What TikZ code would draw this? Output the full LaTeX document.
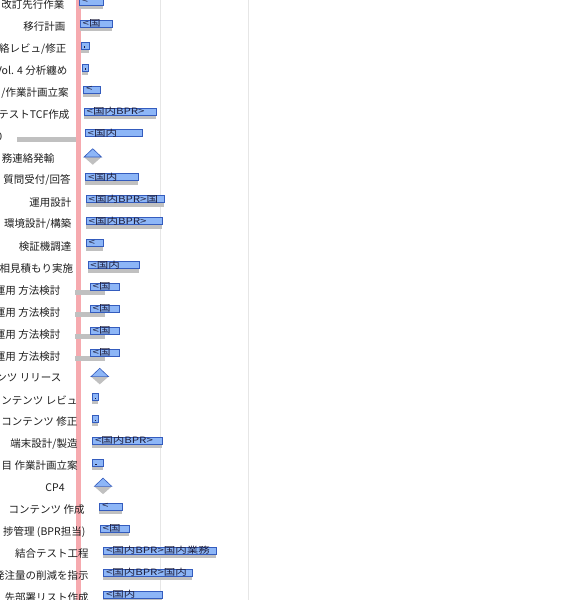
\documentclass[tikz,border=0pt]{standalone}
\usepackage{graphicx}
\usepackage{fontspec}
\newfontfamily\jpfont{Noto Sans CJK JP}
\newfontfamily\jpbarfont{Noto Sans CJK JP Medium}
\definecolor{barfill}{RGB}{141,182,247}
\definecolor{barline}{RGB}{52,92,190}
\definecolor{shadowgray}{RGB}{192,192,192}
\definecolor{pinkline}{RGB}{246,170,175}
\definecolor{gridgray}{RGB}{230,230,230}
\definecolor{labtext}{RGB}{30,30,30}
\definecolor{btext}{RGB}{30,30,60}
\tikzset{
  gbar/.style={draw=barline, fill=barfill, line width=0.6pt},
  gshadow/.style={fill=shadowgray},
  lab/.style={font=\jpfont\fontsize{10.5}{12}\selectfont, text=labtext, inner sep=0pt, anchor=east},
  btxt/.style={font=\jpfont\fontsize{11.5}{12}\selectfont, text=btext, inner sep=0pt, anchor=west},
  gridline/.style={draw=gridgray, line width=0.8pt},
  todayline/.style={fill=pinkline},
}
\newcommand\rowy[1]{\pgfmathsetmacro\cy{1.5+21.96*(#1-1)}}
% task bar with shadow: row, x1, x2, bar text, label
\newcommand\gtask[5]{%
  \rowy{#1}%
  \fill[gshadow] (#2,\cy+0.75) rectangle (#3,\cy+7.5);
  \node[gbar, minimum width={(#3-#2)*1pt}, minimum height=7pt, inner sep=0pt, anchor=west] (bar#1) at (#2,\cy) {};
  \node[btxt] (bt#1) at ([xshift=2.5pt,yshift=0.3pt]bar#1.west) {\scalebox{1}[0.76]{#4}};
  \node[lab] (lab#1) at (#2-14.5,\cy+3.2) {#5};
}
% tiny bar with a dot: row, x1, x2, label
\newcommand\gtiny[4]{%
  \rowy{#1}%
  \fill[gshadow] (#2,\cy+0.75) rectangle (#3,\cy+7.5);
  \node[gbar, minimum width={(#3-#2)*1pt}, minimum height=7pt, inner sep=0pt, anchor=west] (bar#1) at (#2,\cy) {};
  \fill[btext] ([xshift=2.6pt,yshift=-0.9pt]bar#1.west) rectangle +(1.8,1.8);
  \node[lab] (lab#1) at (#2-14.5,\cy+3.2) {#4};
}
% baseline gray bar + blue bar without shadow: row, gx1, gx2, x1, x2, bar text, label
\newcommand\gbase[7]{%
  \rowy{#1}%
  \fill[gshadow] (#2,\cy+3.4) rectangle (#3,\cy+8.4);
  \node[gbar, minimum width={(#5-#4)*1pt}, minimum height=7pt, inner sep=0pt, anchor=west] (bar#1) at (#4,\cy) {};
  \node[btxt] (bt#1) at ([xshift=2.5pt,yshift=0.3pt]bar#1.west) {\scalebox{1}[0.76]{#6}};
  \node[lab] (lab#1) at (#2-14.5,\cy+3.2) {#7};
}
% milestone: row, x1, label
\newcommand\gmile[3]{%
  \rowy{#1}%
  \coordinate (ml#1) at (#2,\cy+1.8);
  \coordinate (mr#1) at (#2+17.5,\cy+1.8);
  \coordinate (mt#1) at (#2+8.75,\cy-6.5);
  \coordinate (mb#1) at (#2+8.75,\cy+9.5);
  \fill[gshadow] (ml#1) -- (mb#1) -- (mr#1) -- cycle;
  \filldraw[gbar] (ml#1) -- (mt#1) -- (mr#1) -- cycle;
  \node[lab] (lab#1) at (#2-29.5,\cy+3.2) {#3};
}
\begin{document}
\begin{tikzpicture}[x=1pt,y=-1pt]
\useasboundingbox (0,0) rectangle (574,600);
\clip (0,0) rectangle (574,600);
\fill[white] (0,0) rectangle (574,600);
% grid lines
\coordinate (g1t) at (160.5,0); \coordinate (g1b) at (160.5,600);
\coordinate (g2t) at (248.5,0); \coordinate (g2b) at (248.5,600);
\draw[gridline] (g1t) -- (g1b);
\draw[gridline] (g2t) -- (g2b);
% today line
\fill[todayline] (76,0) rectangle (81.2,600);
% rows
\gtask{1}{79}{103}{<}{改訂先行作業}
\gtask{2}{80}{111.5}{<国}{移行計画}
\gtiny{3}{81}{89.3}{絡レビュ/修正}
\gtiny{4}{82}{88.3}{Vol. 4 分析纏め}
\gtask{5}{83.3}{100}{<}{/作業計画立案}
\gtask{6}{84}{155.7}{<国内BPR>}{テストTCF作成}
\gbase{7}{17}{76}{85}{141.7}{<国内}{0}
\gmile{8}{84}{務連絡発輸}
\gtask{9}{85.3}{138.3}{<国内}{質問受付/回答}
\gtask{10}{86}{164}{<国内BPR>国}{運用設計}
\gtask{11}{86}{161.7}{<国内BPR>}{環境設計/構築}
\gtask{12}{86}{103.3}{<}{検証機調達}
\gtask{13}{87.7}{139.3}{<国内}{相見積もり実施}
\gbase{14}{75}{105}{90}{119.3}{<国}{運用 方法検討}
\gbase{15}{75}{105}{90}{119.3}{<国}{運用 方法検討}
\gbase{16}{75}{105}{90}{119.3}{<国}{運用 方法検討}
\gbase{17}{75}{105}{90}{119.3}{<国}{運用 方法検討}
\gmile{18}{91}{ンツ リリース}
\gtiny{19}{92}{98}{ンテンツ レビュ}
\gtiny{20}{92}{98}{コンテンツ 修正}
\gtask{21}{92.3}{161.7}{<国内BPR>}{端末設計/製造}
\gtiny{22}{92.3}{103.3}{目 作業計画立案}
\gmile{23}{94.3}{CP4}
\gtask{24}{99.3}{122.3}{<}{コンテンツ 作成}
\gtask{25}{100}{129.3}{<国}{捗管理 (BPR担当)}
\gtask{26}{103.3}{216}{<国内BPR>国内業務}{結合テスト工程}
\gtask{27}{103.3}{191.7}{<国内BPR>国内}{発注量の削減を指示}
\gtask{28}{103.3}{161.7}{<国内}{先部署リスト作成}
\end{tikzpicture}
\end{document}
